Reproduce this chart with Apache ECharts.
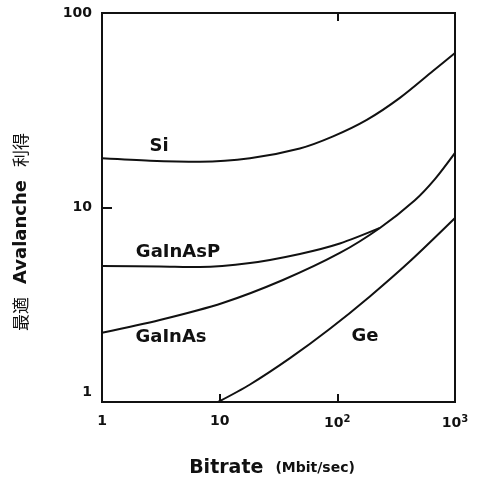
<!DOCTYPE html>
<html>
<head>
<meta charset="utf-8">
<style>
  html, body { margin: 0; padding: 0; background: #fff; }
  #chart { width: 479px; height: 479px; }
</style>
<script src="https://cdn.jsdelivr.net/npm/echarts@6/dist/echarts.min.js"></script>
</head>
<body>
<div id="chart"></div>
<script>
// Optimum avalanche gain versus bitrate for several photodiode materials
const xTicks = [1, 10, 100, 1000];
const xTickText = ['1', '10', '10{sup|2}', '10{sup|3}'];
const yTicks = [1, 10, 100];
const yTickText = ['{lo|1}', '10', '100'];

const siData = [[1, 17.9], [2.56, 17.4], [6.8, 17.2], [18.1, 17.9], [48, 20.1], [92, 23.2], [178, 28.2], [340, 36.6], [649, 50.3], [1000, 62.3]];
const gainAsPData = [[1, 5.0], [3.1, 4.97], [6.8, 4.94], [18.1, 5.18], [48, 5.77], [105, 6.53], [230, 7.85]];
const gainAsData = [[1, 2.27], [3.1, 2.64], [10.6, 3.23], [34.5, 4.24], [105, 5.84], [230, 7.85], [456, 10.9], [675, 14], [1000, 19.1]];
const geData = [[9.7, 1.0], [18.1, 1.23], [39.6, 1.68], [86.5, 2.38], [189, 3.49], [414, 5.29], [1000, 8.83]];

const seriesNames = ['Si', 'GaInAsP', 'GaInAs', 'Ge'];
const seriesData = [siData, gainAsPData, gainAsData, geData];

const FONT = 'DejaVu Sans';
const INK = '#111';

const chart = echarts.init(document.getElementById('chart'), null, { renderer: 'canvas' });

function tickText(list, texts, v) {
  for (let i = 0; i < list.length; i++) {
    if (Math.abs(list[i] - v) / list[i] < 1e-6) return texts[i];
  }
  return '';
}

const curveLabel = (x, y, text) => ({
  type: 'text', x: x, y: y,
  style: { text: text, font: 'bold 18px "DejaVu Sans"', fill: INK, align: 'center', verticalAlign: 'middle' }
});

const option = {
  backgroundColor: '#fff',
  animation: false,
  grid: {
    left: 102, right: 24, top: 13, bottom: 77,
    show: true, borderColor: INK, borderWidth: 2, backgroundColor: 'transparent'
  },
  xAxis: [{
    type: 'log', logBase: 10, min: 1, max: 1000,
    axisLine: { show: true, lineStyle: { color: INK, width: 2 } },
    axisTick: { show: true, inside: true, length: 8, lineStyle: { color: INK, width: 2 } },
    minorTick: { show: false },
    splitLine: { show: false },
    axisLabel: {
      margin: 12, color: INK, fontFamily: FONT, fontWeight: 'bold', fontSize: 14,
      formatter: v => tickText(xTicks, xTickText, v),
      rich: { sup: { fontSize: 10, fontFamily: FONT, fontWeight: 'bold', color: INK, verticalAlign: 'top', padding: [0, 0, 8, 0] } }
    }
  }, {
    type: 'log', logBase: 10, min: 1, max: 1000, position: 'top',
    axisLine: { show: false },
    axisTick: { show: true, inside: true, length: 8, customValues: [100], lineStyle: { color: INK, width: 2 } },
    axisLabel: { show: false },
    splitLine: { show: false }
  }],
  yAxis: {
    type: 'log', logBase: 10, min: 1, max: 100,
    axisLine: { show: true, lineStyle: { color: INK, width: 2 } },
    axisTick: { show: true, inside: true, length: 10, lineStyle: { color: INK, width: 2 } },
    minorTick: { show: false },
    splitLine: { show: false },
    axisLabel: {
      margin: 10, color: INK, fontFamily: FONT, fontWeight: 'bold', fontSize: 14,
      formatter: v => tickText(yTicks, yTickText, v),
      rich: { lo: { fontSize: 14, fontFamily: FONT, fontWeight: 'bold', color: INK, padding: [0, 0, 20, 0] } }
    }
  },
  series: seriesNames.map((name, i) => ({
    name: name,
    type: 'line',
    xAxisIndex: 0,
    data: seriesData[i],
    smooth: 0.3,
    showSymbol: false,
    symbol: 'none',
    lineStyle: { color: INK, width: 2 },
    clip: true
  })),
  graphic: [
    curveLabel(159, 146, 'Si'),
    curveLabel(178, 252, 'GaInAsP'),
    curveLabel(171, 337, 'GaInAs'),
    curveLabel(365, 336, 'Ge'),
    {
      type: 'text', x: 272, y: 468,
      style: {
        text: '{a|Bitrate}{b|(Mbit/sec)}',
        align: 'center', verticalAlign: 'middle',
        rich: {
          a: { fontFamily: FONT, fontWeight: 'bold', fontSize: 19, fill: INK, color: INK, padding: [0, 12, 0, 0] },
          b: { fontFamily: FONT, fontWeight: 'bold', fontSize: 14, fill: INK, color: INK }
        }
      }
    },
    {
      type: 'text', x: 21, y: 232, rotation: Math.PI / 2,
      style: {
        text: '{c|最適}{a|Avalanche}{c|利得}',
        align: 'center', verticalAlign: 'middle',
        rich: {
          a: { fontFamily: FONT, fontWeight: 'bold', fontSize: 18, fill: INK, color: INK, padding: [0, 13, 0, 13] },
          c: { fontFamily: '"Noto Sans CJK JP"', fontWeight: 'normal', fontSize: 17, fill: INK, color: INK }
        }
      }
    }
  ]
};

chart.setOption(option);
</script>
</body>
</html>
